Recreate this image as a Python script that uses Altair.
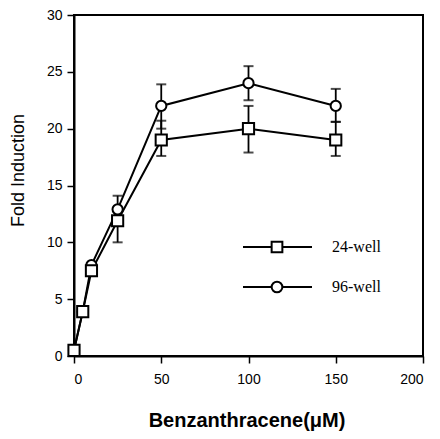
import altair as alt
import pandas as pd

# ---- data ----
conc = [0, 5, 10, 25, 50, 100, 150]
fold_24 = [0.5, 3.9, 7.5, 11.9, 19.0, 20.0, 19.0]
fold_96 = [0.5, 3.9, 8.0, 12.9, 22.0, 24.0, 22.0]
lo_24 = [None, None, None, 10.0, 17.6, 17.9, 17.6]
hi_24 = [None, None, None, None, 20.7, 22.0, 20.6]
lo_96 = [None, None, None, None, 20.0, 22.5, 20.6]
hi_96 = [None, None, None, 14.1, 23.9, 25.5, 23.5]
series = ["24-well", "96-well"]
x_ticks = [0, 50, 100, 150, 200]
y_ticks = [0, 5, 10, 15, 20, 25, 30]

rows = []
for c, f24, f96 in zip(conc, fold_24, fold_96):
    rows.append({"conc": c, "fold": f24, "series": series[0]})
    rows.append({"conc": c, "fold": f96, "series": series[1]})
df = pd.DataFrame(rows)

err_rows = []
for c, f, lo, hi in zip(conc, fold_24, lo_24, hi_24):
    for e in (lo, hi):
        if e is not None:
            err_rows.append({"conc": c, "fold": f, "end": e, "series": series[0]})
for c, f, lo, hi in zip(conc, fold_96, lo_96, hi_96):
    for e in (lo, hi):
        if e is not None:
            err_rows.append({"conc": c, "fold": f, "end": e, "series": series[1]})
err = pd.DataFrame(err_rows)

xs = alt.Scale(domain=[0, 200], nice=False)
ys = alt.Scale(domain=[0, 30], nice=False)
X = alt.X("conc:Q", scale=xs,
          axis=alt.Axis(values=x_ticks, title="Benzanthracene(\u03bcM)",
                        titleFontWeight="bold", titleFontSize=20,
                        titleY=70, titleBaseline="alphabetic", titleX=172.5,
                        tickSize=7, labelPadding=9))
Y = alt.Y("fold:Q", scale=ys,
          axis=alt.Axis(values=y_ticks, title="Fold Induction",
                        titleFontWeight="normal", titleFontSize=18,
                        titleX=-51, titleY=155, titleBaseline="alphabetic",
                        tickSize=7, labelPadding=5))

base = alt.Chart(df)
lines = base.mark_line(color="black", strokeWidth=2).encode(
    x=X, y=Y, detail="series:N")

ebase = alt.Chart(err)
stems = ebase.mark_rule(color="black", strokeWidth=1.8).encode(
    x="conc:Q", y="fold:Q", y2="end:Q")
caps = ebase.mark_tick(color="black", orient="horizontal", size=10,
                       thickness=2).encode(x="conc:Q", y="end:Q")

circles = base.transform_filter(alt.datum.series == series[1]).mark_point(
    shape="circle", filled=False, fill="white", fillOpacity=1,
    stroke="black", strokeWidth=2, size=105, opacity=1
).encode(x="conc:Q", y="fold:Q")
squares = base.transform_filter(alt.datum.series == series[0]).mark_point(
    shape="square", filled=False, fill="white", fillOpacity=1,
    stroke="black", strokeWidth=2, size=125, opacity=1
).encode(x="conc:Q", y="fold:Q")

# ---- in-plot legend ----
leg = pd.DataFrame({"label": series})
leg_y = {series[0]: 232, series[1]: 272}
leg_layers = []
for s, shp in zip(series, ["square", "circle"]):
    d = alt.Chart(leg).transform_filter(alt.datum.label == s)
    leg_layers.append(d.mark_rule(color="black", strokeWidth=2).encode(
        x=alt.value(169), x2=alt.value(238), y=alt.value(leg_y[s])))
    leg_layers.append(d.mark_point(shape=shp, filled=False, fill="white",
                                   fillOpacity=1, stroke="black",
                                   strokeWidth=2, size=115, opacity=1).encode(
        x=alt.value(203), y=alt.value(leg_y[s])))
    leg_layers.append(d.mark_text(font="Liberation Serif", fontSize=16,
                                  align="left", baseline="middle",
                                  color="black").encode(
        x=alt.value(258), y=alt.value(leg_y[s]), text="label:N"))

chart = alt.layer(lines, stems, caps, circles, squares, *leg_layers).properties(
    width=349, height=341, autosize="none",
    padding={"left": 66, "top": 7, "right": 9, "bottom": 75}
).configure(background="white"
).configure_view(stroke="black", strokeWidth=2
).configure_axis(
    grid=False, domainColor="black", domainWidth=2, tickColor="black",
    tickWidth=1.5, labelFont="Liberation Sans", labelFontSize=14,
    labelColor="black", titleFont="Liberation Sans", titleColor="black"
)

chart.save("out.html", embed_options={"renderer": "svg", "actions": False})
